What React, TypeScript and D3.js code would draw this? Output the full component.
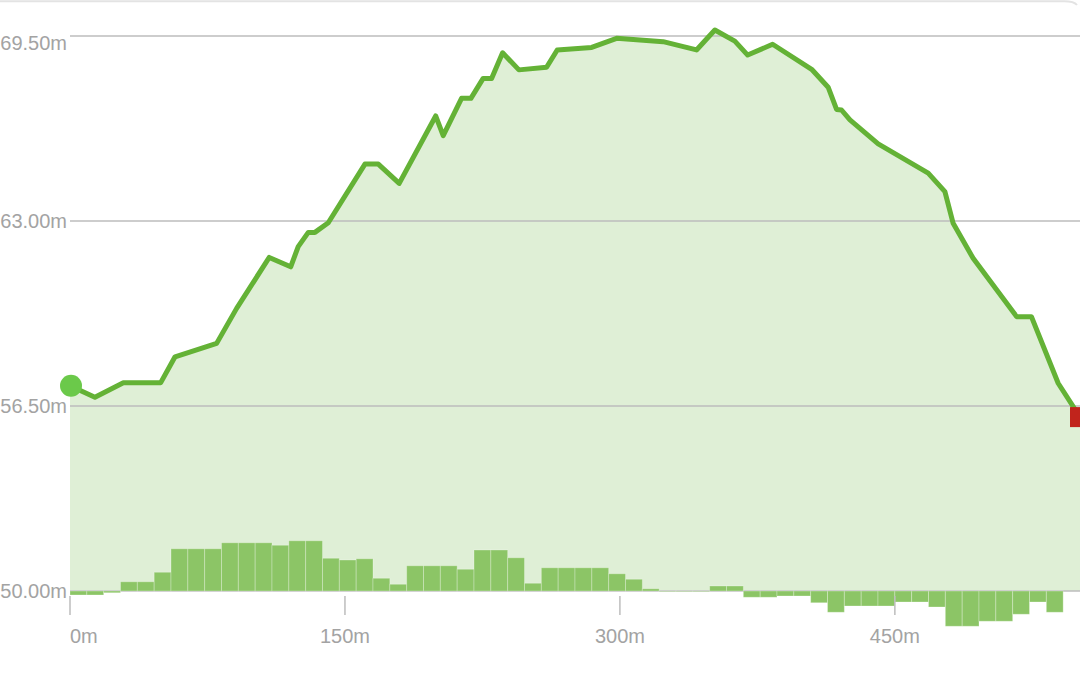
import * as d3 from "d3";
import React, { useEffect, useRef } from "react";

const W = 1080;
const H = 675;

// elevation profile, distance in metres along the route
const distances = [
    0, 13.6, 29.1, 49.5, 57.3, 80.0, 90.9, 108.7, 120.4, 124.5, 130.0, 133.6,
    140.9, 160.9, 168.2, 179.6, 199.5, 203.6, 213.6, 218.7, 225.4, 230.0, 236.0,
    244.9, 260.0, 265.8, 284.6, 298.2, 323.6, 341.8, 351.8, 362.7, 369.7, 383.3,
    404.6, 413.6, 418.2, 420.9, 425.5, 440.9, 468.2, 477.3, 481.8, 492.7, 516.4,
    524.5, 539.1, 551.0,
];
const elevations = [
    57.21, 56.81, 57.32, 57.32, 58.23, 58.7, 59.93, 61.72, 61.39, 62.1, 62.6, 62.6,
    62.94, 65.0, 65.0, 64.32, 66.69, 66.0, 67.31, 67.31, 68.01, 68.01, 68.91,
    68.31, 68.4, 69.01, 69.1, 69.42, 69.3, 69.01, 69.71, 69.32, 68.83, 69.21,
    68.33, 67.7, 66.92, 66.9, 66.55, 65.71, 64.68, 64.03, 62.92, 61.69, 59.64,
    59.64, 57.3, 56.11,
];

// gradient (%) per equal segment of the route
const grades = [
    -0.8, -0.8, -0.35, 1.85, 1.85, 3.75, 8.45, 8.45, 8.45, 9.65, 9.65, 9.65,
    9.15, 10.05, 10.05, 6.55, 6.2, 6.45, 2.55, 1.35, 5.05, 5.05, 5.05, 4.35,
    8.2, 8.2, 6.65, 1.55, 4.65, 4.65, 4.65, 4.65, 3.45, 2.35, 0.45, -0.1,
    -0.1, -0.1, 1.0, 1.0, -1.25, -1.25, -1.0, -1.0, -2.35, -4.25, -3.0, -3.0,
    -3.0, -2.2, -2.2, -3.2, -7.05, -7.05, -6.05, -6.05, -4.65, -2.2, -4.25, 0,
];

const totalDistance = 551;
const yTicks = [50, 56.5, 63, 69.5];
const xTicks = [0, 150, 300, 450];

const lineColor = "#64b236";
const fillColor = "#dfefd6";
const barColor = "#8cc566";
const gridColor = "#bdbdbd";
const labelColor = "#a3a3a3";
const font = "'Liberation Sans', Arial, Helvetica, sans-serif";

export default function App() {
    const svgRef = useRef<SVGSVGElement | null>(null);

    useEffect(() => {
        if (!svgRef.current) return;
        const svg = d3.select(svgRef.current);
        svg.selectAll("*").remove();

        const x = d3.scaleLinear().domain([0, totalDistance]).range([70, 1080]);
        const y = d3.scaleLinear().domain([50, 69.5]).range([591, 36]);
        const g = d3.scaleLinear().domain([-10, 10]).range([y(50) + 50, y(50) - 50]);

        const pts = distances.map((d, i) => [d, elevations[i]] as [number, number]);

        /* ---------- card border ---------- */
        svg
            .append("path")
            .attr("d", "M-10,1.2 H1064 Q1074,1.2 1077,5")
            .attr("fill", "none")
            .attr("stroke", "#e3e3e3")
            .attr("stroke-width", 2);

        /* ---------- area ---------- */
        const area = d3
            .area<[number, number]>()
            .x((d) => x(d[0]))
            .y0(y(50))
            .y1((d) => y(d[1]));

        svg.append("path").datum(pts).attr("d", area).attr("fill", fillColor);

        /* ---------- grid + y labels ---------- */
        yTicks.forEach((t, i) => {
            const yy = y(t);
            svg
                .append("line")
                .attr("x1", x(0))
                .attr("x2", W)
                .attr("y1", yy)
                .attr("y2", yy)
                .attr("stroke", gridColor)
                .attr("stroke-width", 1.5);

            svg
                .append("text")
                .attr("x", 67)
                .attr("y", i === yTicks.length - 1 ? yy + 14 : yy + 7)
                .attr("text-anchor", "end")
                .attr("font-family", font)
                .attr("font-size", 20)
                .attr("fill", labelColor)
                .text(`${t.toFixed(2)}m`);
        });

        /* ---------- gradient bars ---------- */
        const step = totalDistance / grades.length;
        svg
            .append("g")
            .selectAll("rect")
            .data(grades)
            .join("rect")
            .attr("x", (_, i) => x(i * step))
            .attr("width", (_, i) => x((i + 1) * step) - x(i * step))
            .attr("y", (v) => Math.min(g(v), g(0)))
            .attr("height", (v) => Math.abs(g(v) - g(0)))
            .attr("fill", barColor)
            .attr("stroke", "rgba(255,255,255,0.28)")
            .attr("stroke-width", 1);

        /* ---------- x axis ---------- */
        xTicks.forEach((t, i) => {
            const xx = x(t);
            svg
                .append("line")
                .attr("x1", xx)
                .attr("x2", xx)
                .attr("y1", 596)
                .attr("y2", 615)
                .attr("stroke", gridColor)
                .attr("stroke-width", 1.5);

            svg
                .append("text")
                .attr("x", i === 0 ? xx : xx)
                .attr("y", 643)
                .attr("text-anchor", i === 0 ? "start" : "middle")
                .attr("font-family", font)
                .attr("font-size", 20)
                .attr("fill", labelColor)
                .text(`${t}m`);
        });

        /* ---------- profile line ---------- */
        const line = d3
            .line<[number, number]>()
            .x((d) => x(d[0]))
            .y((d) => y(d[1]));

        svg
            .append("path")
            .datum(pts)
            .attr("d", line)
            .attr("fill", "none")
            .attr("stroke", lineColor)
            .attr("stroke-width", 5)
            .attr("stroke-linejoin", "round");

        /* ---------- start / end markers ---------- */
        const first = pts[0];
        const last = pts[pts.length - 1];

        svg
            .append("circle")
            .attr("cx", x(first[0]) + 1)
            .attr("cy", y(first[1]))
            .attr("r", 11)
            .attr("fill", "#6bc94a");

        svg
            .append("rect")
            .attr("x", x(last[0]) - 10)
            .attr("y", y(last[1]) - 10)
            .attr("width", 20)
            .attr("height", 20)
            .attr("fill", "#c1241c");
    }, []);

    return (
        <svg
            ref={svgRef}
            width={W}
            height={H}
            style={{ position: "absolute", left: 0, top: 0, background: "#fff" }}
        />
    );
}
